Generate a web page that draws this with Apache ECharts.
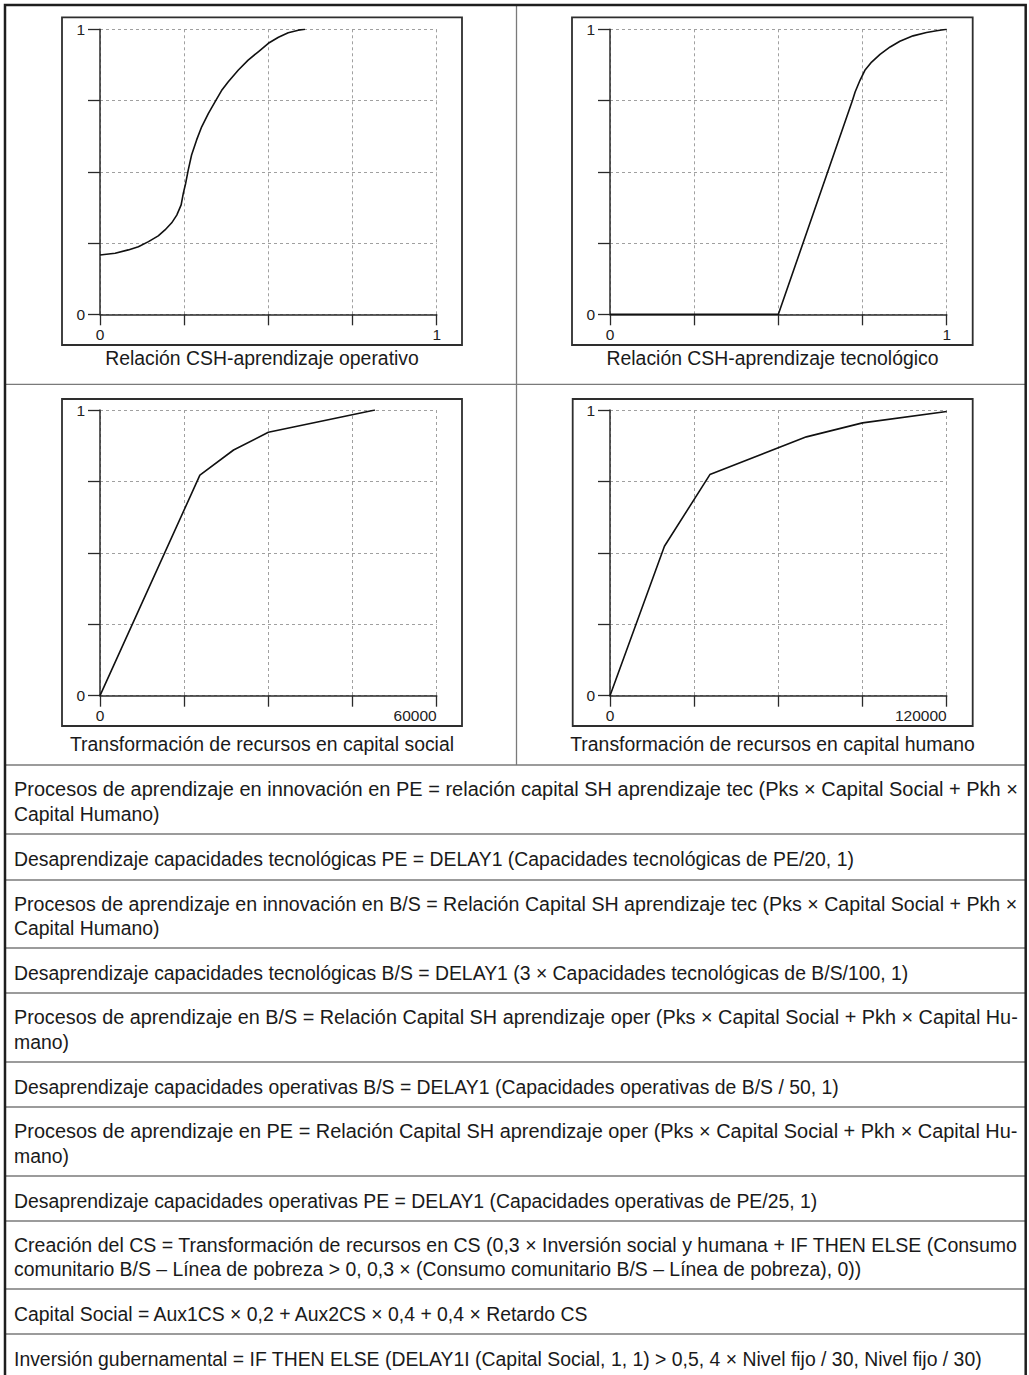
<!DOCTYPE html>
<html>
<head>
<meta charset="utf-8">
<script src="https://cdn.jsdelivr.net/npm/echarts@6/dist/echarts.min.js"></script>
<style>
html,body{margin:0;padding:0;background:#fff;}
#c{width:1029px;height:1375px;}
</style>
</head>
<body>
<div id="c"></div>
<script>
// ---- Data ----
// Relación CSH-aprendizaje operativo
const operX = [0, 0.045, 0.084, 0.114, 0.144, 0.173, 0.193, 0.213, 0.228, 0.241, 0.2475, 0.2545, 0.262, 0.272, 0.287, 0.302, 0.322, 0.342, 0.361, 0.381, 0.411, 0.44, 0.47, 0.5, 0.53, 0.559, 0.589, 0.609];
const operY = [0.208, 0.214, 0.226, 0.237, 0.255, 0.275, 0.296, 0.321, 0.348, 0.384, 0.425, 0.46, 0.506, 0.559, 0.612, 0.658, 0.705, 0.746, 0.785, 0.816, 0.857, 0.892, 0.921, 0.951, 0.972, 0.988, 0.997, 1];
// Relación CSH-aprendizaje tecnológico
const tecX = [0, 0.5, 0.72, 0.728, 0.7425, 0.757, 0.777, 0.802, 0.832, 0.861, 0.9, 0.94, 0.97, 1];
const tecY = [0, 0, 0.75, 0.78, 0.821, 0.856, 0.885, 0.912, 0.938, 0.958, 0.977, 0.989, 0.995, 1];
// Transformación de recursos en capital social
const socX = [0, 17800, 23800, 30000, 49000];
const socY = [0, 0.772, 0.86, 0.922, 1];
// Transformación de recursos en capital humano
const humX = [0, 19400, 35600, 70000, 90000, 120000];
const humY = [0, 0.523, 0.774, 0.906, 0.955, 0.995];

const xMaxValues = [1, 1, 60000, 120000];
const yTickLabels = ['0', '1'];
const chartTitles = [
  'Relación CSH-aprendizaje operativo',
  'Relación CSH-aprendizaje tecnológico',
  'Transformación de recursos en capital social',
  'Transformación de recursos en capital humano'
];
const eqLines = [
  ['Procesos de aprendizaje en innovación en PE = relación capital SH aprendizaje tec (Pks × Capital Social + Pkh ×', 'Capital Humano)'],
  ['Desaprendizaje capacidades tecnológicas PE = DELAY1 (Capacidades tecnológicas de PE/20, 1)'],
  ['Procesos de aprendizaje en innovación en B/S = Relación Capital SH aprendizaje tec (Pks × Capital Social + Pkh ×', 'Capital Humano)'],
  ['Desaprendizaje capacidades tecnológicas B/S = DELAY1 (3 × Capacidades tecnológicas de B/S/100, 1)'],
  ['Procesos de aprendizaje en B/S = Relación Capital SH aprendizaje oper (Pks × Capital Social + Pkh × Capital Hu-', 'mano)'],
  ['Desaprendizaje capacidades operativas B/S = DELAY1 (Capacidades operativas de B/S / 50, 1)'],
  ['Procesos de aprendizaje en PE = Relación Capital SH aprendizaje oper (Pks × Capital Social + Pkh × Capital Hu-', 'mano)'],
  ['Desaprendizaje capacidades operativas PE = DELAY1 (Capacidades operativas de PE/25, 1)'],
  ['Creación del CS = Transformación de recursos en CS (0,3 × Inversión social y humana + IF THEN ELSE (Consumo', 'comunitario B/S – Línea de pobreza > 0, 0,3 × (Consumo comunitario B/S – Línea de pobreza), 0))'],
  ['Capital Social = Aux1CS × 0,2 + Aux2CS × 0,4 + 0,4 × Retardo CS'],
  ['Inversión gubernamental = IF THEN ELSE (DELAY1I (Capital Social, 1, 1) > 0,5, 4 × Nivel fijo / 30, Nivel fijo / 30)']
];

// ---- Layout ----
const FONT = 'Liberation Sans, Arial, Helvetica, sans-serif';
const TXT = 19.4;
const grids = [
  {left: 100, top: 29.3, width: 336.7, height: 285},
  {left: 610, top: 29.3, width: 336.7, height: 285},
  {left: 100, top: 410, width: 336.7, height: 285.7},
  {left: 610, top: 410, width: 336.7, height: 285.7}
];
const frames = [
  [62, 17.3, 400, 327.7],
  [572, 17.3, 400.7, 327.7],
  [62, 399, 400, 327],
  [572.7, 399, 400, 327]
];
const captionPos = [[262, 358], [772.5, 358], [262, 743.5], [772.5, 743.5]];
const rowBounds = [765, 834, 880, 948, 993, 1062, 1107, 1176, 1221, 1289, 1334, 1379];

const seriesX = [operX, tecX, socX, humX];
const seriesY = [operY, tecY, socY, humY];

const axisColor = '#2a2a2a';
const xAxes = [], yAxes = [], series = [];
for (let i = 0; i < 4; i++) {
  const xMax = xMaxValues[i];
  xAxes.push({
    gridIndex: i, type: 'value', min: 0, max: xMax, interval: xMax / 4,
    axisLine: {show: true, onZero: false, lineStyle: {color: axisColor, width: 1.5}},
    axisTick: {show: true, length: 11, lineStyle: {color: axisColor, width: 1.3}},
    axisLabel: {
      fontFamily: FONT, fontSize: 15.5, color: '#222', margin: 12,
      alignMinLabel: 'center', alignMaxLabel: i >= 2 ? 'right' : 'center',
      formatter: v => (v === 0 || v === xMax) ? String(v) : ''
    },
    splitLine: {show: true, lineStyle: {color: '#a0a0a0', type: [3, 3], width: 1}}
  });
  yAxes.push({
    gridIndex: i, type: 'value', min: 0, max: 1, interval: 0.25,
    axisLine: {show: true, onZero: false, lineStyle: {color: axisColor, width: 1.5}},
    axisTick: {show: true, length: 12, lineStyle: {color: axisColor, width: 1.3}},
    axisLabel: {
      fontFamily: FONT, fontSize: 15.5, color: '#222', margin: 15,
      formatter: v => v === 0 ? yTickLabels[0] : (v === 1 ? yTickLabels[1] : '')
    },
    splitLine: {show: true, lineStyle: {color: '#a0a0a0', type: [3, 3], width: 1}}
  });
  series.push({
    type: 'line', xAxisIndex: i, yAxisIndex: i,
    data: seriesX[i].map((x, k) => [x, seriesY[i][k]]),
    showSymbol: false, symbol: 'none', smooth: false,
    lineStyle: {color: '#111', width: 1.6, join: 'round'},
    z: 5
  });
}

// ---- Graphic: table, frames, captions, equations ----
const g = [];
g.push({type: 'rect', shape: {x: 5, y: 5, width: 1020.7, height: 1385}, style: {fill: 'none', stroke: '#1e1e1e', lineWidth: 2.5}, z: 10});
g.push({type: 'line', shape: {x1: 516.5, y1: 5, x2: 516.5, y2: 765}, style: {stroke: '#7a7a7a', lineWidth: 1.3}, z: 9});
[384.3].concat(rowBounds.slice(0, rowBounds.length - 1)).forEach(y => {
  g.push({type: 'line', shape: {x1: 5, y1: y, x2: 1025.7, y2: y}, style: {stroke: '#7a7a7a', lineWidth: 1.3}, z: 9});
});
frames.forEach(f => {
  g.push({type: 'rect', shape: {x: f[0], y: f[1], width: f[2], height: f[3]}, style: {fill: 'none', stroke: '#2e2e2e', lineWidth: 1.8}, z: 9});
});
chartTitles.forEach((t, i) => {
  g.push({type: 'text', x: captionPos[i][0], y: captionPos[i][1],
    style: {text: t, fontFamily: FONT, fontSize: TXT, fill: '#1a1a1a', align: 'center', verticalAlign: 'middle'}, z: 11});
});
const ctx = document.createElement('canvas').getContext('2d');
ctx.font = TXT + 'px "Liberation Sans"';
const LEFT = 14, RIGHT = 1018;
eqLines.forEach((lines, r) => {
  const c = (rowBounds[r] + rowBounds[r + 1]) / 2 + 2;
  const ys = lines.length === 1 ? [c] : [c - 12.2, c + 12.2];
  lines.forEach((t, k) => {
    const el = {type: 'text', x: LEFT, y: ys[k],
      style: {text: t, fontFamily: FONT, fontSize: TXT, fill: '#1a1a1a', align: 'left', verticalAlign: 'middle'}, z: 11};
    if (lines.length > 1 && k === 0) {
      const w = ctx.measureText(t).width;
      if (w > 0) { el.scaleX = (RIGHT - LEFT) / w; el.originX = 0; }
    }
    g.push(el);
  });
});

const chart = echarts.init(document.getElementById('c'), null, {renderer: 'svg'});
chart.setOption({
  animation: false,
  backgroundColor: '#ffffff',
  grid: grids.map(gr => Object.assign({containLabel: false}, gr)),
  xAxis: xAxes,
  yAxis: yAxes,
  series: series,
  graphic: {elements: g}
});
</script>
</body>
</html>
